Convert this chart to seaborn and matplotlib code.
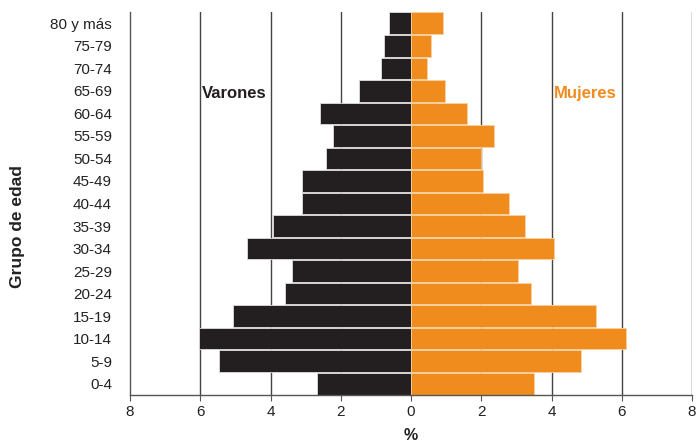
import numpy as np
import pandas as pd
import matplotlib
matplotlib.use("Agg")
import matplotlib.pyplot as plt
import seaborn as sns

age_groups = ["80 y más", "75-79", "70-74", "65-69", "60-64", "55-59", "50-54",
              "45-49", "40-44", "35-39", "30-34", "25-29", "20-24", "15-19",
              "10-14", "5-9", "0-4"]
varones = [0.62, 0.77, 0.85, 1.49, 2.59, 2.22, 2.42, 3.09, 3.09, 3.94, 4.66,
           3.40, 3.59, 5.06, 6.03, 5.46, 2.69]
mujeres = [0.92, 0.56, 0.46, 0.98, 1.59, 2.36, 2.00, 2.05, 2.79, 3.24, 4.07,
           3.05, 3.42, 5.27, 6.11, 4.84, 3.51]
x_ticks = [-8, -6, -4, -2, 0, 2, 4, 6, 8]
x_ticklabels = ["8", "6", "4", "2", "0", "2", "4", "6", "8"]

sns.set_theme(style="white")
plt.rcParams["font.family"] = ["Liberation Sans", "DejaVu Sans"]

dark = "#231f20"
orange = "#f08c1e"

df = pd.DataFrame({"edad": age_groups,
                   "varones": -np.array(varones),
                   "mujeres": np.array(mujeres)})

fig = plt.figure(figsize=(6.96, 4.43), dpi=100)
ax = fig.add_axes([130 / 696, 1 - 395 / 443, (692 - 130) / 696, (395 - 12) / 443])

for xv in [-6, -4, -2, 2, 4, 6, 8]:
    ax.axvline(xv, color="#444444", lw=1.0, zorder=0)

sns.barplot(data=df, x="varones", y="edad", orient="h", color=dark,
            width=0.96, edgecolor="#dddddd", linewidth=0.6, saturation=1, ax=ax, zorder=2)
sns.barplot(data=df, x="mujeres", y="edad", orient="h", color=orange,
            width=0.96, edgecolor="#f8d0a0", linewidth=0.6, saturation=1, ax=ax, zorder=2)

ax.set_xlim(-8, 8)
ax.set_ylim(16.5, -0.5)
ax.set_xticks(x_ticks)
ax.set_xticklabels(x_ticklabels, fontsize=11, color="#222222")
ax.tick_params(axis="y", labelsize=11, colors="#222222", length=0, pad=13)
ax.tick_params(axis="x", length=4, width=0.8, color="#555555", direction="out", pad=3, bottom=True)
for lab in ax.get_yticklabels():
    lab.set_color("#222222")

ax.set_xlabel("%", fontsize=11.5, fontweight="bold", color="#222222", labelpad=7)
ax.set_ylabel("Grupo de edad", fontsize=12.5, fontweight="bold", color="#222222")
ax.yaxis.set_label_coords(-0.187, 0.441)

for s in ["top", "right"]:
    ax.spines[s].set_visible(False)
for s in ["left", "bottom"]:
    ax.spines[s].set_color("#555555")
    ax.spines[s].set_linewidth(1.0)

ax.text(-5.04, 3.1, "Varones", fontsize=12, fontweight="bold", color=dark,
        ha="center", va="center")
ax.text(4.96, 3.1, "Mujeres", fontsize=12, fontweight="bold", color=orange,
        ha="center", va="center")

fig.savefig("out.png", dpi=100)
